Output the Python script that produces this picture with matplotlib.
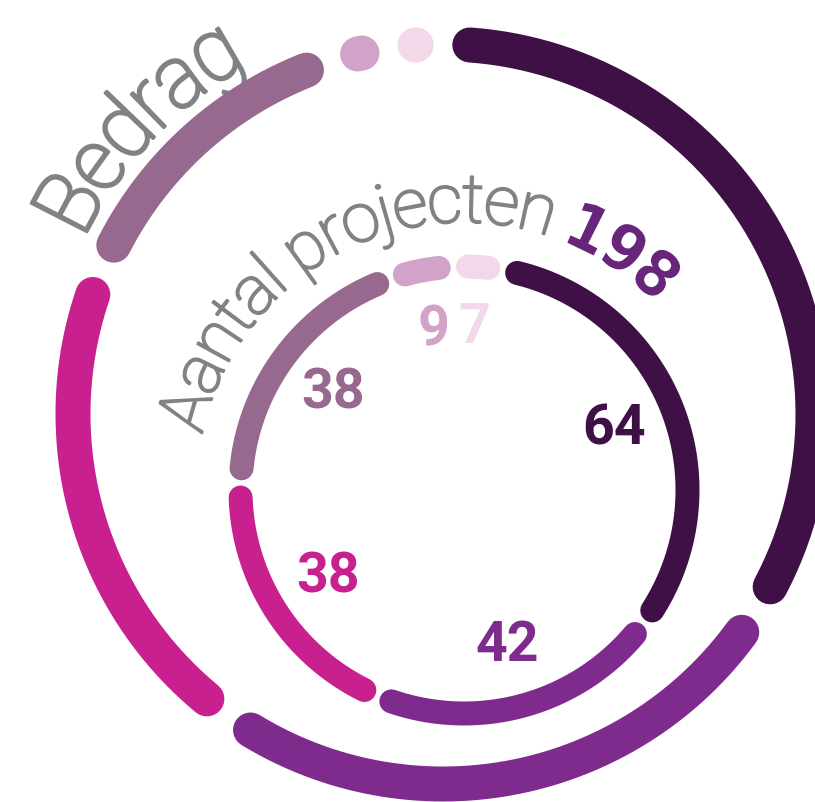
# twee ringen: aantal projecten (binnen) en bedrag (buiten)
import numpy as np
import matplotlib
matplotlib.use("Agg")
import matplotlib.pyplot as plt
from matplotlib.textpath import TextPath, text_to_path
from matplotlib.font_manager import FontProperties
from matplotlib.patches import PathPatch
from matplotlib.path import Path

# data (bedrag niet af te lezen, geschat uit de booglengtes)
aantal_projecten = [64, 42, 38, 38, 9, 7]
bedrag = [12.2, 9.35, 7.75, 4.95, 0.9, 0.85]
kleuren = ["#3e1045", "#7f2b8e", "#c8208e", "#97698f", "#d3a2c9", "#f2d8e8"]
totaal_label = "198"

W, H = 815, 802
fig = plt.figure(figsize=(W / 100, H / 100), dpi=100)
fig.patch.set_facecolor("white")
GRIJS = "#808285"


def polar_ax(cx, cy, half):
    # polar assen waarbij r in pixels loopt
    ax = fig.add_axes([(cx - half) / W, 1 - (cy + half) / H, 2 * half / W, 2 * half / H],
                      projection="polar")
    ax.set_theta_zero_location("N")
    ax.set_theta_direction(-1)
    ax.set_ylim(0, half)
    ax.set_facecolor("none")
    ax.axis("off")
    return ax


def ring(ax, waarden, R, lw_px, start, gap):
    tot = sum(waarden)
    randen = start + 360 * np.concatenate([[0], np.cumsum(waarden)]) / tot
    for a, b, c in zip(randen[:-1], randen[1:], kleuren):
        a2, b2 = a + gap / 2, b - gap / 2
        if b2 <= a2:
            m = (a + b) / 2
            a2, b2 = m - 0.1, m + 0.1
        th = np.radians(np.linspace(a2, b2, 200))
        ax.plot(th, np.full_like(th, R), color=c, lw=lw_px * 0.72,
                solid_capstyle="round", clip_on=False)
    return (randen[:-1] + randen[1:]) / 2


def gebogen_tekst(ax, delen, R, start_deg, spatie=0.28):
    # delen: (tekst, fontprops, kleur, randdikte, breedtefactor)
    # tekst langs een cirkel, met de klok mee
    u0 = 0.0
    for s, fp, kleur, rand, sx in delen:
        tp = TextPath((0, 0), s, prop=fp)
        v = tp.vertices
        th = np.radians(start_deg) + (u0 + v[:, 0] * sx) / R
        r = R + v[:, 1]
        pad = Path(np.column_stack([th, r]), tp.codes)
        ax.add_patch(PathPatch(pad, facecolor=kleur, edgecolor=kleur, lw=rand,
                               joinstyle="round", transform=ax.transData, clip_on=False))
        w, _, _ = text_to_path.get_text_width_height_descent(s, fp, ismath=False)
        u0 += w * sx + spatie * fp.get_size_in_points()


# buitenring: bedrag
ax_b = polar_ax(443, 414, 520)
ring(ax_b, bedrag, 370, 35, 0, 8.3)
fp_bedrag = FontProperties(family="Roboto", weight="light", size=88)
gebogen_tekst(ax_b, [("Bedrag", fp_bedrag, GRIJS, 2.2, 0.9)], 400, 296)

# binnenring: aantal projecten
ax_a = polar_ax(464, 490, 360)
midden = ring(ax_a, aantal_projecten, 223.5, 24, 10, 7.5)
fp_aantal = FontProperties(family="Roboto", weight="light", size=68)
fp_tot = FontProperties(family="DejaVu Sans Mono", weight="bold", size=63)
gebogen_tekst(ax_a, [("Aantal projecten", fp_aantal, GRIJS, 1.6, 0.95),
                     (totaal_label, fp_tot, "#68267a", 0, 1.0)], 268, 282, spatie=0.2)

for m, v, c in zip(midden, aantal_projecten, kleuren):
    ax_a.text(np.radians(m), 162, str(v), color=c, fontsize=40, fontweight="bold",
              family="Roboto", ha="center", va="center")

fig.savefig("out.png", dpi=100, facecolor="white")
